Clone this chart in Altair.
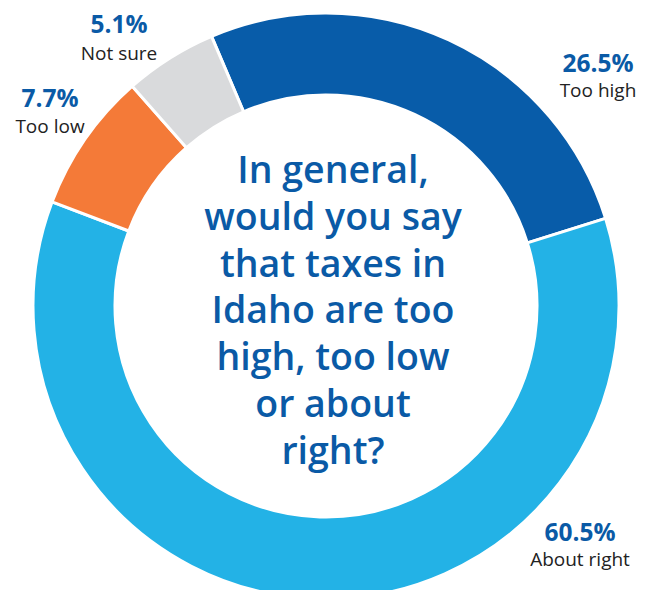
import altair as alt
import pandas as pd
import math

categories = ["Too high", "About right", "Too low", "Not sure"]
values = [26.5, 60.5, 7.7, 5.1]
pct_labels = ["26.5%", "60.5%", "7.7%", "5.1%"]
colors = ["#085ca9", "#23b2e6", "#f47a38", "#d9dadc"]
question = ["In general,", "would you say", "that taxes in", "Idaho are too",
            "high, too low", "or about", "right?"]

df = pd.DataFrame({"cat": categories, "val": values, "order": list(range(len(categories)))})

W, H = 639, 582
CX, CY = 318, 298
start = math.radians(-23) + 2 * math.pi

arc = alt.Chart(df).mark_arc(outerRadius=293, innerRadius=211, stroke="white",
                             strokeWidth=3, clip=True).encode(
    theta=alt.Theta("val:Q", stack=True,
                    scale=alt.Scale(range=[start, start + 2 * math.pi])),
    color=alt.Color("cat:N", scale=alt.Scale(domain=categories, range=colors), legend=None),
    order=alt.Order("order:Q"),
    x=alt.value(CX), y=alt.value(CY),
)

# label layout (page coords minus 8px margin)
label_layout = [(590, 64, 89), (572, 533, 558), (42, 99, 125), (111, 25, 52)]
layers = [arc]
base = alt.Chart(pd.DataFrame({"a": [0]}))
for i, (lx, ly1, ly2) in enumerate(label_layout):
    layers.append(base.mark_text(text=pct_labels[i], font="Open Sans", fontWeight="bold",
                                 fontSize=24.5, color="#0a5aa6", align="center",
                                 baseline="alphabetic").encode(x=alt.value(lx), y=alt.value(ly1)))
    layers.append(base.mark_text(text=categories[i], font="Open Sans", fontSize=19,
                                 color="#222222", align="center",
                                 baseline="alphabetic").encode(x=alt.value(lx), y=alt.value(ly2)))

line_step = 46.8
for k, line in enumerate(question):
    layers.append(base.mark_text(text=line, font="Open Sans", fontWeight=600, fontSize=37.5,
                                 color="#0a5aa6", align="center",
                                 baseline="alphabetic").encode(x=alt.value(325),
                                                               y=alt.value(175 + k * line_step)))

chart = alt.layer(*layers).properties(
    width=W, height=H, padding=0, autosize=alt.AutoSizeParams(type="none")
).configure_view(stroke=None)

chart.save("out.html", embed_options={"renderer": "svg", "actions": False})
